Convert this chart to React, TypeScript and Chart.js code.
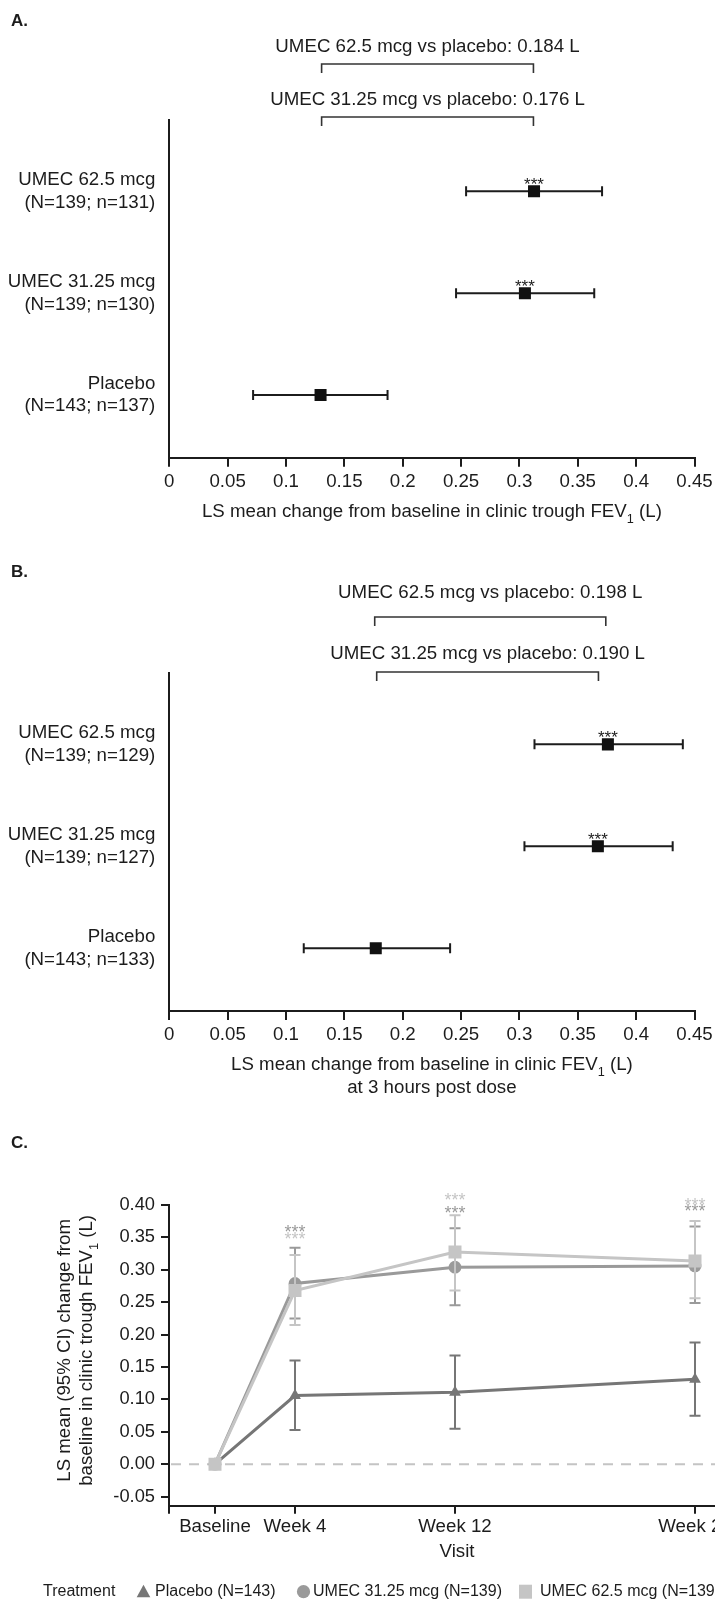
import React, { useEffect, useRef } from 'react';
import { Chart, registerables } from 'chart.js';
Chart.register(...registerables);

const FONT = '"Liberation Sans", Arial, Helvetica, sans-serif';
const INK = '#1c1c1c';
const FS = 18.7;

// ---------- Panel A: clinic trough FEV1 ----------
const rowsForest = [3, 2, 1];
const rowLabelsA = [['UMEC 62.5 mcg', '(N=139; n=131)'], ['UMEC 31.25 mcg', '(N=139; n=130)'], ['Placebo', '(N=143; n=137)']];
const meansA = [0.3125, 0.3047, 0.1296];
const lowA = [0.2543, 0.2457, 0.0718];
const highA = [0.3708, 0.3641, 0.187];
const starsA = ['***', '***', ''];
const compTextsA = ['UMEC 62.5 mcg vs placebo: 0.184 L', 'UMEC 31.25 mcg vs placebo: 0.176 L'];
const compFromA = [0.1305, 0.1305];
const compToA = [0.312, 0.312];

// ---------- Panel B: clinic FEV1 at 3 h post dose ----------
const rowLabelsB = [['UMEC 62.5 mcg', '(N=139; n=129)'], ['UMEC 31.25 mcg', '(N=139; n=127)'], ['Placebo', '(N=143; n=133)']];
const meansB = [0.3758, 0.3672, 0.1769];
const lowB = [0.3129, 0.3043, 0.1152];
const highB = [0.44, 0.4313, 0.2406];
const starsB = ['***', '***', ''];
const compTextsB = ['UMEC 62.5 mcg vs placebo: 0.198 L', 'UMEC 31.25 mcg vs placebo: 0.190 L'];
const compFromB = [0.176, 0.1777];
const compToB = [0.374, 0.3677];

const xTicksForest = [0, 0.05, 0.1, 0.15, 0.2, 0.25, 0.3, 0.35, 0.4, 0.45];

// ---------- Panel C: trough FEV1 over time ----------
const visitWeeks = [0, 4, 12, 24];
const visitLabels = ['Baseline', 'Week 4', 'Week 12', 'Week 24'];
const seriesNames = ['Placebo (N=143)', 'UMEC 31.25 mcg (N=139)', 'UMEC 62.5 mcg (N=139)'];
const placeboMean = [0, 0.106, 0.111, 0.131];
const placeboLow = [null, 0.053, 0.0546, 0.0748];
const placeboHigh = [null, 0.16, 0.1676, 0.188];
const placeboStars = ['', '', '', ''];
const u31Mean = [0, 0.279, 0.304, 0.306];
const u31Low = [null, 0.225, 0.2455, 0.2486];
const u31High = [null, 0.334, 0.364, 0.367];
const u31Stars = ['', '***', '***', '***'];
const u62Mean = [0, 0.268, 0.3276, 0.3136];
const u62Low = [null, 0.215, 0.268, 0.256];
const u62High = [null, 0.323, 0.384, 0.3755];
const u62Stars = ['', '***', '***', '***'];
const yTicksC = [-0.05, 0, 0.05, 0.1, 0.15, 0.2, 0.25, 0.3, 0.35, 0.4];

type Part = [string, boolean];

function drawRich(ctx: CanvasRenderingContext2D, parts: Part[], cx: number, cy: number, fs: number, color: string) {
  const main = `${fs}px ${FONT}`;
  const sub = `${fs * 0.68}px ${FONT}`;
  let total = 0;
  parts.forEach(([t, s]) => { ctx.font = s ? sub : main; total += ctx.measureText(t).width; });
  let x = cx - total / 2;
  ctx.textAlign = 'left';
  ctx.textBaseline = 'middle';
  ctx.fillStyle = color;
  parts.forEach(([t, s]) => {
    ctx.font = s ? sub : main;
    ctx.fillText(t, x, s ? cy + fs * 0.42 : cy);
    x += ctx.measureText(t).width;
  });
}

function drawStars(ctx: CanvasRenderingContext2D, text: string, x: number, visualY: number, color: string, fs: number) {
  if (!text) return;
  ctx.font = `${fs}px ${FONT}`;
  ctx.textAlign = 'center';
  ctx.textBaseline = 'alphabetic';
  ctx.fillStyle = color;
  ctx.fillText(text, x, visualY + fs * 0.58);
}

type ForestSpec = {
  label: string; labelY: number;
  rowLabels: string[][]; means: number[]; low: number[]; high: number[]; stars: string[];
  compTexts: string[]; compFrom: number[]; compTo: number[];
  compTextY: number[]; compBracketY: number[];
  titles: Part[][]; titleY: number;
  W: number; H: number; area: { left: number; right: number; top: number; bottom: number };
};

function forestConfig(sp: ForestSpec): any {
  const XH = 50;
  const plugin = {
    id: 'forestDecor',
    beforeDatasetsDraw(chart: any) {
      const { ctx, scales: { x, y } } = chart;
      ctx.save();
      ctx.strokeStyle = INK;
      ctx.lineWidth = 2;
      rowsForest.forEach((r, i) => {
        const py = y.getPixelForValue(r);
        const x1 = x.getPixelForValue(sp.low[i]);
        const x2 = x.getPixelForValue(sp.high[i]);
        ctx.beginPath();
        ctx.moveTo(x1, py); ctx.lineTo(x2, py);
        ctx.moveTo(x1, py - 5); ctx.lineTo(x1, py + 5);
        ctx.moveTo(x2, py - 5); ctx.lineTo(x2, py + 5);
        ctx.stroke();
      });
      ctx.restore();
    },
    afterDraw(chart: any) {
      const { ctx, scales: { x, y }, chartArea } = chart;
      ctx.save();
      rowsForest.forEach((r, i) => {
        drawStars(ctx, sp.stars[i], x.getPixelForValue(sp.means[i]), y.getPixelForValue(r) - 11, INK, 17);
      });
      sp.compTexts.forEach((t, i) => {
        const x1 = x.getPixelForValue(sp.compFrom[i]);
        const x2 = x.getPixelForValue(sp.compTo[i]);
        const by = sp.compBracketY[i];
        ctx.strokeStyle = '#333';
        ctx.lineWidth = 1.6;
        ctx.beginPath();
        ctx.moveTo(x1, by + 9); ctx.lineTo(x1, by); ctx.lineTo(x2, by); ctx.lineTo(x2, by + 9);
        ctx.stroke();
        drawRich(ctx, [[t, false]], (x1 + x2) / 2, sp.compTextY[i], FS, INK);
      });
      ctx.font = `bold 17px ${FONT}`;
      ctx.fillStyle = INK;
      ctx.textAlign = 'left';
      ctx.textBaseline = 'middle';
      ctx.fillText(sp.label, 11, sp.labelY);
      const cx = (chartArea.left + chartArea.right) / 2;
      sp.titles.forEach((parts, i) => drawRich(ctx, parts, cx, sp.titleY + i * 22.4, FS, INK));
      ctx.restore();
    },
  };
  return {
    type: 'scatter',
    data: {
      datasets: [{
        data: rowsForest.map((r, i) => ({ x: sp.means[i], y: r })),
        pointStyle: 'rect', pointRadius: 8.5, pointHoverRadius: 8.5,
        backgroundColor: '#111', borderColor: '#111', borderWidth: 0,
      }],
    },
    options: {
      animation: false, responsive: false, devicePixelRatio: 1, events: [],
      layout: { padding: { left: 0, top: sp.area.top, right: sp.W - sp.area.right, bottom: sp.H - sp.area.bottom - XH } },
      plugins: { legend: { display: false }, tooltip: { enabled: false } },
      scales: {
        x: {
          type: 'linear', min: 0, max: 0.45, position: 'bottom',
          afterBuildTicks: (s: any) => { s.ticks = xTicksForest.map(v => ({ value: v })); },
          afterFit: (s: any) => { s.height = XH; s.paddingLeft = 0; s.paddingRight = 0; },
          ticks: { autoSkip: false, maxRotation: 0, padding: 4, color: INK, font: { family: FONT, size: FS }, callback: (v: any) => String(v) },
          grid: { display: true, drawOnChartArea: false, drawTicks: true, tickLength: 9, lineWidth: 2, color: INK },
          border: { display: true, width: 2, color: INK },
        },
        y: {
          type: 'linear', min: 0.385, max: 3.7,
          afterBuildTicks: (s: any) => { s.ticks = rowsForest.map(v => ({ value: v })); },
          afterFit: (s: any) => { s.width = sp.area.left; s.paddingTop = 0; s.paddingBottom = 0; },
          ticks: { padding: 6, color: INK, font: { family: FONT, size: FS }, callback: (v: any) => sp.rowLabels[rowsForest.indexOf(v)] || '' },
          grid: { display: false },
          border: { display: true, width: 2, color: INK },
        },
      },
    },
    plugins: [plugin],
  };
}

function lineConfig(W: number, H: number): any {
  const area = { left: 169, right: 745, top: 95, bottom: 395.7 };
  const XH = 40;
  const series = [
    { name: seriesNames[0], mean: placeboMean, low: placeboLow, high: placeboHigh, stars: placeboStars, color: '#767676', style: 'triangle', radius: 6.8, order: 2 },
    { name: seriesNames[1], mean: u31Mean, low: u31Low, high: u31High, stars: u31Stars, color: '#9a9a9a', style: 'circle', radius: 6.4, order: 1 },
    { name: seriesNames[2], mean: u62Mean, low: u62Low, high: u62High, stars: u62Stars, color: '#c5c5c5', style: 'rect', radius: 9.2, order: 0 },
  ];
  const plugin = {
    id: 'lineDecor',
    beforeDatasetsDraw(chart: any) {
      const { ctx, scales: { y }, chartArea } = chart;
      const py = y.getPixelForValue(0);
      ctx.save();
      ctx.strokeStyle = '#c4c4c4';
      ctx.lineWidth = 2;
      ctx.setLineDash([10, 8]);
      ctx.beginPath();
      ctx.moveTo(chartArea.left + 2, py);
      ctx.lineTo(chartArea.right, py);
      ctx.stroke();
      ctx.restore();
    },
    beforeDatasetDraw(chart: any, args: any) {
      const s = series[args.index];
      const { ctx, scales: { x, y } } = chart;
      ctx.save();
      ctx.strokeStyle = s.color;
      ctx.lineWidth = 2;
      visitWeeks.forEach((w, i) => {
        if (s.low[i] == null) return;
        const px = x.getPixelForValue(w);
        const y1 = y.getPixelForValue(s.low[i]);
        const y2 = y.getPixelForValue(s.high[i]);
        ctx.beginPath();
        ctx.moveTo(px, y1); ctx.lineTo(px, y2);
        ctx.moveTo(px - 5.5, y1); ctx.lineTo(px + 5.5, y1);
        ctx.moveTo(px - 5.5, y2); ctx.lineTo(px + 5.5, y2);
        ctx.stroke();
      });
      ctx.restore();
    },
    afterDraw(chart: any) {
      const { ctx, scales: { x, y }, chartArea } = chart;
      ctx.save();
      series.forEach(s => {
        visitWeeks.forEach((w, i) => {
          if (!s.stars[i]) return;
          drawStars(ctx, s.stars[i], x.getPixelForValue(w), y.getPixelForValue(s.high[i]) - 20, s.color, 18);
        });
      });
      // panel label
      ctx.font = `bold 17px ${FONT}`;
      ctx.fillStyle = INK;
      ctx.textAlign = 'left';
      ctx.textBaseline = 'middle';
      ctx.fillText('C.', 11, 33);
      // y title
      const cy = (chartArea.top + chartArea.bottom) / 2 - 5;
      ctx.save();
      ctx.translate(65, cy);
      ctx.rotate(-Math.PI / 2);
      drawRich(ctx, [['LS mean (95% CI) change from', false]], 0, 0, FS, INK);
      ctx.restore();
      ctx.save();
      ctx.translate(87, cy);
      ctx.rotate(-Math.PI / 2);
      drawRich(ctx, [['baseline in clinic trough FEV', false], ['1', true], [' (L)', false]], 0, 0, FS, INK);
      ctx.restore();
      // x title
      drawRich(ctx, [['Visit', false]], (chartArea.left + chartArea.right) / 2, chartArea.bottom + 46, FS, INK);
      // legend
      const ly = 481.7;
      ctx.font = `16px ${FONT}`;
      ctx.fillStyle = INK;
      ctx.textAlign = 'left';
      ctx.textBaseline = 'middle';
      ctx.fillText('Treatment', 43, ly);
      const textX = [155, 313, 540];
      const markX = [143.5, 303.5, 525.5];
      series.forEach((s, i) => {
        ctx.fillStyle = s.color;
        ctx.beginPath();
        if (s.style === 'triangle') {
          ctx.moveTo(markX[i], ly - 7);
          ctx.lineTo(markX[i] + 6.8, ly + 5.5);
          ctx.lineTo(markX[i] - 6.8, ly + 5.5);
          ctx.closePath();
        } else if (s.style === 'circle') {
          ctx.arc(markX[i], ly, 6.6, 0, Math.PI * 2);
        } else {
          ctx.rect(markX[i] - 6.5, ly - 7, 13, 14);
        }
        ctx.fill();
        ctx.fillStyle = INK;
        ctx.fillText(s.name, textX[i], ly);
      });
      ctx.restore();
    },
  };
  return {
    type: 'line',
    data: {
      datasets: series.map(s => ({
        label: s.name,
        data: visitWeeks.map((w, i) => ({ x: w, y: s.mean[i] })),
        borderColor: s.color, backgroundColor: s.color,
        pointBackgroundColor: s.color, pointBorderColor: s.color, pointBorderWidth: 0,
        pointStyle: s.style, pointRadius: s.radius, pointHoverRadius: s.radius,
        borderWidth: 3, tension: 0, order: s.order, fill: false,
      })),
    },
    options: {
      animation: false, responsive: false, devicePixelRatio: 1, events: [],
      layout: { padding: { left: 0, top: area.top, right: W - area.right, bottom: H - area.bottom - XH } },
      plugins: { legend: { display: false }, tooltip: { enabled: false } },
      scales: {
        x: {
          type: 'linear', min: -2.3, max: 26.5, position: 'bottom',
          afterBuildTicks: (s: any) => { s.ticks = [{ value: -2.3 }, ...visitWeeks.map(v => ({ value: v }))]; },
          afterFit: (s: any) => { s.height = XH; s.paddingLeft = 0; s.paddingRight = 0; },
          ticks: {
            autoSkip: false, maxRotation: 0, padding: 2, color: INK, font: { family: FONT, size: FS },
            callback: (v: any) => { const k = visitWeeks.indexOf(v); return k >= 0 ? visitLabels[k] : ''; },
          },
          grid: { display: true, drawOnChartArea: false, drawTicks: true, tickLength: 8, lineWidth: 2, color: INK },
          border: { display: true, width: 2, color: INK },
        },
        y: {
          type: 'linear', min: -0.064, max: 0.4,
          afterBuildTicks: (s: any) => { s.ticks = yTicksC.map(v => ({ value: v })); },
          afterFit: (s: any) => { s.width = area.left; s.paddingTop = 0; s.paddingBottom = 0; },
          ticks: { padding: 6, color: INK, font: { family: FONT, size: 18.3 }, callback: (v: any) => Number(v).toFixed(2) },
          grid: { display: true, drawOnChartArea: false, drawTicks: true, tickLength: 8, lineWidth: 2, color: INK },
          border: { display: true, width: 2, color: INK },
        },
      },
    },
    plugins: [plugin],
  };
}

const AW = 715, AH = 545, BH = 565, CW = 780, CH = 491;

export default function App() {
  const aRef = useRef<HTMLCanvasElement>(null);
  const bRef = useRef<HTMLCanvasElement>(null);
  const cRef = useRef<HTMLCanvasElement>(null);
  useEffect(() => {
    const a = new Chart(aRef.current as HTMLCanvasElement, forestConfig({
      label: 'A.', labelY: 21,
      rowLabels: rowLabelsA, means: meansA, low: lowA, high: highA, stars: starsA,
      compTexts: compTextsA, compFrom: compFromA, compTo: compToA,
      compTextY: [47, 100], compBracketY: [64, 117],
      titles: [[['LS mean change from baseline in clinic trough FEV', false], ['1', true], [' (L)', false]]],
      titleY: 511.7,
      W: AW, H: AH, area: { left: 169.3, right: 694.5, top: 120, bottom: 457.7 },
    }));
    const b = new Chart(bRef.current as HTMLCanvasElement, forestConfig({
      label: 'B.', labelY: 27,
      rowLabels: rowLabelsB, means: meansB, low: lowB, high: highB, stars: starsB,
      compTexts: compTextsB, compFrom: compFromB, compTo: compToB,
      compTextY: [48, 109], compBracketY: [72, 127],
      titles: [[['LS mean change from baseline in clinic FEV', false], ['1', true], [' (L)', false]], [['at 3 hours post dose', false]]],
      titleY: 520,
      W: AW, H: BH, area: { left: 169.3, right: 694.5, top: 128, bottom: 466 },
    }));
    const c = new Chart(cRef.current as HTMLCanvasElement, lineConfig(CW, CH));
    return () => { a.destroy(); b.destroy(); c.destroy(); };
  }, []);
  return (
    <div style={{ position: 'absolute', left: 0, top: 0, width: 715, height: 1601, overflow: 'hidden', background: '#fff' }}>
      <canvas ref={aRef} width={AW} height={AH} style={{ position: 'absolute', left: 0, top: 0, width: AW, height: AH }} />
      <canvas ref={bRef} width={AW} height={BH} style={{ position: 'absolute', left: 0, top: AH, width: AW, height: BH }} />
      <canvas ref={cRef} width={CW} height={CH} style={{ position: 'absolute', left: 0, top: AH + BH, width: CW, height: CH }} />
    </div>
  );
}
